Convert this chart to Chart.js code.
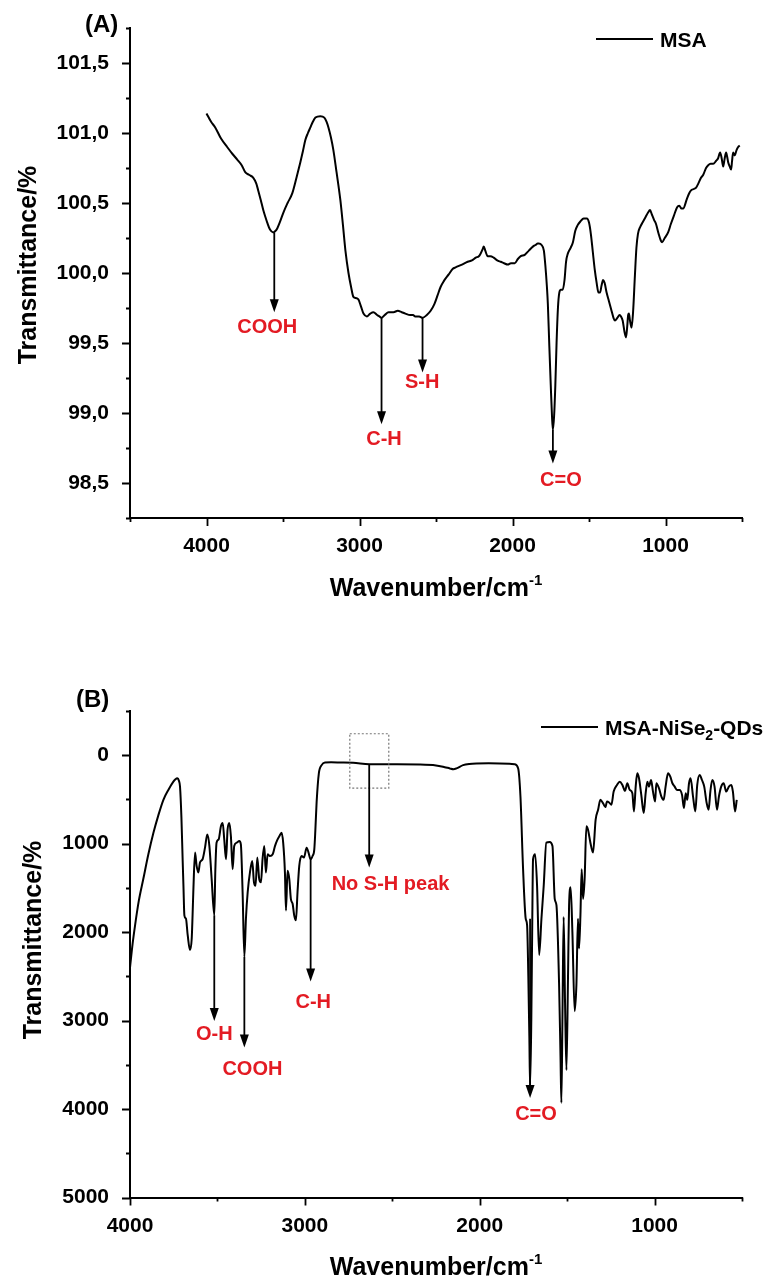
<!DOCTYPE html>
<html>
<head>
<meta charset="utf-8">
<script src="https://cdn.jsdelivr.net/npm/chart.js@4.4.0/dist/chart.umd.min.js"></script>
<style>
  body { margin: 0; background: #fff; }
  .panel { position: absolute; left: 0; width: 767px; height: 640px; }
</style>
</head>
<body>
<div class="panel" style="top:0"><canvas id="chartA" width="767" height="640"></canvas></div>
<div class="panel" style="top:640px"><canvas id="chartB" width="767" height="640"></canvas></div>
<script>
// (A) MSA spectrum
const msaWavenumber = [
  4000, 3970, 3943, 3905, 3865, 3830, 3799, 3770, 3747, 3720,
  3694, 3675, 3662, 3645, 3629, 3615, 3603, 3585, 3564, 3550,
  3537, 3518, 3498, 3470, 3439, 3412, 3387, 3370, 3354, 3337,
  3321, 3305, 3288, 3256, 3230, 3215, 3203, 3187, 3171, 3150,
  3125, 3108, 3092, 3072, 3055, 3040, 3020, 3007, 2990, 2974,
  2952, 2930, 2909, 2885, 2870, 2856, 2835, 2810, 2778, 2750,
  2724, 2700, 2669, 2650, 2636, 2610, 2588, 2560, 2535, 2510,
  2490, 2470, 2450, 2417, 2390, 2372, 2330, 2293, 2265, 2240,
  2220, 2208, 2195, 2188, 2178, 2162, 2145, 2123, 2100, 2077,
  2055, 2031, 2010, 1985, 1965, 1946, 1920, 1893, 1865, 1850,
  1835, 1828, 1810, 1795, 1785, 1775, 1769, 1760, 1750, 1742,
  1736, 1728, 1720, 1712, 1703, 1694, 1684, 1672, 1660, 1650,
  1638, 1620, 1605, 1590, 1575, 1555, 1535, 1514, 1500, 1488,
  1475, 1462, 1450, 1438, 1428, 1418, 1408, 1398, 1385, 1370,
  1355, 1340, 1330, 1315, 1300, 1291, 1280, 1268, 1258, 1250,
  1244, 1239, 1232, 1222, 1212, 1200, 1190, 1180, 1165, 1150,
  1130, 1115, 1101, 1090, 1075, 1062, 1045, 1030, 1022, 1005,
  983, 965, 945, 924, 910, 895, 885, 860, 845, 833,
  815, 800, 785, 768, 754, 735, 721, 705, 688, 670,
  656, 643, 633, 623, 613, 604, 597, 590, 580, 571,
  565, 558, 548, 535, 525, 515
];
const msaTransmittance = [
  101.14, 101.08, 101.04, 100.96, 100.90, 100.85, 100.81, 100.77, 100.72, 100.70,
  100.68, 100.64, 100.59, 100.52, 100.45, 100.40, 100.36, 100.31, 100.29, 100.30,
  100.32, 100.37, 100.43, 100.50, 100.57, 100.68, 100.79, 100.87, 100.95, 101.00,
  101.04, 101.08, 101.11, 101.12, 101.11, 101.08, 101.04, 100.97, 100.88, 100.72,
  100.52, 100.34, 100.16, 100.00, 99.90, 99.83, 99.82, 99.81, 99.76, 99.71,
  99.69, 99.71, 99.72, 99.70, 99.69, 99.68, 99.70, 99.72, 99.72, 99.73,
  99.72, 99.71, 99.70, 99.70, 99.69, 99.69, 99.68, 99.70, 99.73, 99.78,
  99.84, 99.90, 99.94, 99.99, 100.03, 100.04, 100.06, 100.08, 100.09, 100.11,
  100.12, 100.14, 100.17, 100.19, 100.16, 100.12, 100.12, 100.11, 100.09, 100.08,
  100.07, 100.06, 100.07, 100.07, 100.10, 100.12, 100.13, 100.16, 100.19, 100.20,
  100.21, 100.21, 100.20, 100.16, 100.05, 99.90, 99.78, 99.50, 99.20, 98.98,
  98.88, 98.98, 99.20, 99.50, 99.75, 99.86, 99.88, 99.88, 99.95, 100.08,
  100.14, 100.18, 100.22, 100.30, 100.34, 100.37, 100.39, 100.39, 100.36, 100.28,
  100.15, 100.02, 99.93, 99.86, 99.86, 99.91, 99.95, 99.93, 99.86, 99.80,
  99.74, 99.68, 99.66, 99.68, 99.70, 99.69, 99.66, 99.58, 99.54, 99.62,
  99.70, 99.71, 99.66, 99.61, 99.72, 99.98, 100.18, 100.28, 100.33, 100.36,
  100.40, 100.43, 100.45, 100.42, 100.38, 100.35, 100.28, 100.23, 100.22, 100.25,
  100.29, 100.35, 100.41, 100.47, 100.48, 100.46, 100.46, 100.53, 100.57, 100.59,
  100.60, 100.61, 100.64, 100.68, 100.70, 100.75, 100.77, 100.78, 100.78, 100.80,
  100.82, 100.86, 100.82, 100.76, 100.82, 100.86, 100.83, 100.79, 100.76, 100.74,
  100.80, 100.86, 100.84, 100.88, 100.90, 100.91
];

// (B) MSA-NiSe2-QDs spectrum
const qdWavenumber = [
  4000, 3985, 3971, 3950, 3924, 3895, 3866, 3838, 3809, 3780,
  3752, 3740, 3729, 3720, 3714, 3706, 3699, 3694, 3689, 3680,
  3670, 3657, 3647, 3642, 3638, 3628, 3619, 3609, 3600, 3585,
  3571, 3558, 3546, 3533, 3518, 3512, 3505, 3493, 3480, 3470,
  3461, 3451, 3442, 3432, 3423, 3413, 3404, 3390, 3375, 3366,
  3356, 3346, 3337, 3327, 3314, 3301, 3291, 3282, 3272, 3261,
  3251, 3242, 3232, 3223, 3213, 3200, 3184, 3171, 3158, 3146,
  3133, 3124, 3114, 3108, 3099, 3089, 3080, 3070, 3061, 3051,
  3042, 3032, 3019, 3005, 2990, 2979, 2967, 2956, 2946, 2940,
  2933, 2920, 2904, 2885, 2850, 2800, 2724, 2632, 2500, 2343,
  2250, 2200, 2171, 2150, 2133, 2095, 2060, 2019, 1950, 1885,
  1830, 1800, 1780, 1767, 1752, 1737, 1729, 1722, 1716, 1712,
  1705, 1700, 1695, 1683, 1672, 1660, 1647, 1634, 1619, 1600,
  1584, 1571, 1561, 1546, 1538, 1533, 1527, 1520, 1512, 1504,
  1495, 1489, 1480, 1470, 1457, 1447, 1438, 1432, 1424, 1417,
  1409, 1400, 1390, 1381, 1367, 1352, 1337, 1323, 1310, 1295,
  1281, 1272, 1260, 1247, 1234, 1215, 1199, 1184, 1169, 1156,
  1142, 1127, 1118, 1108, 1099, 1089, 1076, 1062, 1051, 1041,
  1032, 1020, 1009, 997, 990, 975, 961, 948, 937, 923,
  910, 898, 885, 872, 857, 843, 832, 822, 813, 803,
  794, 780, 767, 756, 742, 729, 716, 702, 691, 681,
  670, 657, 643, 632, 619, 605, 590, 575, 561, 552,
  540, 530
];
const qdTransmittance = [
  2400, 2130, 1923, 1650, 1400, 1120, 877, 680, 504, 390,
  299, 272, 261, 290, 355, 700, 1176, 1500, 1810, 1848,
  2035, 2202, 2072, 1800, 1549, 1101, 1251, 1325, 1213, 1176,
  1045, 896, 1027, 1400, 1810, 1300, 989, 952, 803, 765,
  952, 1176, 840, 765, 915, 1288, 1027, 989, 971, 1008,
  1549, 2277, 1848, 1549, 1325, 1195, 1437, 1475, 1157, 1400,
  1437, 1176, 1027, 1325, 1120, 1139, 1120, 1027, 960, 915,
  877, 989, 1325, 1754, 1307, 1400, 1624, 1680, 1810, 1867,
  1549, 1251, 1139, 1157, 1045, 1101, 1176, 1139, 1064, 850,
  541, 205, 112, 82, 80, 82, 86, 101, 103, 105,
  115, 135, 149, 158, 149, 112, 98, 93, 92, 93,
  95, 101, 149, 467, 1288, 1848, 1922, 2500, 3200, 3750,
  3000, 2000, 1176, 1120, 1475, 2258, 1848, 1475, 989, 982,
  1027, 1624, 1698, 2594, 3400, 3930, 3000, 1829, 2800, 3560,
  2500, 1698, 1493, 1997, 2893, 2594, 1848, 2184, 1810, 1288,
  1624, 1400, 803, 840, 989, 1101, 728, 616, 504, 541,
  586, 523, 534, 560, 411, 336, 299, 336, 403, 317,
  392, 429, 635, 355, 205, 261, 448, 653, 429, 299,
  355, 280, 411, 523, 317, 373, 467, 504, 355, 205,
  243, 317, 355, 392, 392, 448, 597, 429, 504, 317,
  261, 467, 635, 336, 224, 280, 355, 541, 616, 411,
  280, 355, 616, 467, 355, 317, 411, 355, 336, 411,
  635, 504
];

// axis tick labels
const msaTickX = [4000, 3000, 2000, 1000];
const msaTickY = [98.5, 99.0, 99.5, 100.0, 100.5, 101.0, 101.5];
const qdTickX = [4000, 3000, 2000, 1000];
const qdTickY = [0, 1000, 2000, 3000, 4000, 5000];

// peak markers: wavenumber, arrow from / to (y units), label and its centre
const msaArrows = [
  { x: 3557, from: 100.29, to: 99.72, label: 'COOH', lx: 3603, ly: 99.61 },
  { x: 2856, from: 99.68, to: 98.92, label: 'C-H', lx: 2840, ly: 98.81 },
  { x: 2588, from: 99.68, to: 99.29, label: 'S-H', lx: 2590, ly: 99.22 },
  { x: 1736, from: 98.88, to: 98.64, label: 'C=O', lx: 1684, ly: 98.52 }
];
const qdArrows = [
  { x: 3518, from: 1810, to: 3005, label: 'O-H', lx: 3518, ly: 3160 },
  { x: 3346, from: 2277, to: 3304, label: 'COOH', lx: 3300, ly: 3555 },
  { x: 2967, from: 1176, to: 2557, label: 'C-H', lx: 2952, ly: 2800 },
  { x: 2632, from: 101, to: 1269, label: 'No S-H peak', lx: 2510, ly: 1456 },
  { x: 1712, from: 1850, to: 3876, label: 'C=O', lx: 1678, ly: 4060 }
];
const qdBox = { x1: 2743, x2: 2520, y1: -243, y2: 373 };

const FONT = '"Liberation Sans", Arial, Helvetica, sans-serif';
const RED = '#e31b23';

function font(size) {
    return 'bold ' + size + 'px ' + FONT;
}

// draw text made of parts (for super/subscripts), x is centre or left
function drawRich(ctx, parts, x, y, align) {
    let total = 0;
    parts.forEach(p => {
        ctx.font = font(p.size);
        p.w = ctx.measureText(p.text).width;
        total += p.w;
    });
    let cx = align === 'center' ? x - total / 2 : x;
    ctx.textAlign = 'left';
    ctx.textBaseline = 'alphabetic';
    parts.forEach(p => {
        ctx.font = font(p.size);
        ctx.fillText(p.text, cx, y + (p.dy || 0));
        cx += p.w;
    });
}

function drawArrow(ctx, x, y1, y2) {
    ctx.beginPath();
    ctx.moveTo(x, y1);
    ctx.lineTo(x, y2 - 10);
    ctx.stroke();
    ctx.beginPath();
    ctx.moveTo(x - 4.5, y2 - 13);
    ctx.lineTo(x + 4.5, y2 - 13);
    ctx.lineTo(x, y2);
    ctx.closePath();
    ctx.fill();
}

// outward tick marks: long at labelled values, short between
function drawTicks(ctx, scale, labelled, horizontal, edge) {
    ctx.beginPath();
    scale.ticks.forEach(t => {
        const major = labelled.some(v => Math.abs(v - t.value) < 1e-6);
        const len = major ? 8 : 4;
        const p = Math.round(scale.getPixelForValue(t.value)) + 0.5;
        if (horizontal) {
            ctx.moveTo(p, edge);
            ctx.lineTo(p, edge + len);
        } else {
            ctx.moveTo(edge, p);
            ctx.lineTo(edge - len, p);
        }
    });
    ctx.stroke();
}

function makeExtras(cfg) {
    return {
        id: 'extras' + cfg.tag,
        afterDraw(chart) {
            const { ctx, scales: { x, y }, chartArea } = chart;
            ctx.save();

            ctx.strokeStyle = '#000';
            ctx.lineWidth = 1.8;
            drawTicks(ctx, x, cfg.tickX, true, chartArea.bottom);
            drawTicks(ctx, y, cfg.tickY, false, chartArea.left);

            // dotted box
            if (cfg.box) {
                const b = cfg.box;
                const px1 = x.getPixelForValue(b.x1), px2 = x.getPixelForValue(b.x2);
                const py1 = y.getPixelForValue(b.y1), py2 = y.getPixelForValue(b.y2);
                ctx.setLineDash([2, 2]);
                ctx.strokeStyle = '#777';
                ctx.lineWidth = 1.2;
                ctx.strokeRect(Math.min(px1, px2), Math.min(py1, py2), Math.abs(px2 - px1), Math.abs(py2 - py1));
                ctx.setLineDash([]);
            }

            // arrows + labels
            ctx.strokeStyle = '#000';
            ctx.fillStyle = '#000';
            ctx.lineWidth = 1.8;
            cfg.arrows.forEach(a => {
                const px = x.getPixelForValue(a.x);
                drawArrow(ctx, px, y.getPixelForValue(a.from), y.getPixelForValue(a.to));
            });
            ctx.fillStyle = RED;
            ctx.font = font(20);
            ctx.textAlign = 'center';
            ctx.textBaseline = 'middle';
            cfg.arrows.forEach(a => {
                ctx.fillText(a.label, x.getPixelForValue(a.lx), y.getPixelForValue(a.ly));
            });

            ctx.fillStyle = '#000';
            // panel letter
            ctx.font = font(24);
            ctx.textAlign = 'left';
            ctx.textBaseline = 'middle';
            ctx.fillText(cfg.letter, cfg.letterX, cfg.letterY);

            // legend
            ctx.lineWidth = 2;
            ctx.beginPath();
            ctx.moveTo(cfg.legendX, cfg.legendY);
            ctx.lineTo(cfg.legendX + 57, cfg.legendY);
            ctx.stroke();
            drawRich(ctx, cfg.legendParts, cfg.legendX + 64, cfg.legendY + 7.5, 'left');

            // x title
            const midX = (chartArea.left + chartArea.right) / 2;
            drawRich(ctx, [
                { text: 'Wavenumber/cm', size: 25 },
                { text: '-1', size: 15, dy: -11 }
            ], midX, cfg.xTitleY + 9, 'center');

            // y title
            ctx.translate(cfg.yTitleX, cfg.yTitleY);
            ctx.rotate(-Math.PI / 2);
            drawRich(ctx, [{ text: 'Transmittance/%', size: 25 }], 0, 9, 'center');

            ctx.restore();
        }
    };
}

function makeChart(id, cfg) {
    const points = cfg.xs.map((v, i) => ({ x: v, y: cfg.ys[i] }));
    const tickFont = { family: FONT, size: 21, weight: 'bold' };
    cfg.extras.tickX = cfg.tickX;
    cfg.extras.tickY = cfg.tickY;
    return new Chart(document.getElementById(id), {
        type: 'line',
        data: {
            datasets: [{
                data: points,
                borderColor: '#000',
                borderWidth: 2,
                pointRadius: 0,
                cubicInterpolationMode: 'monotone',
                fill: false
            }]
        },
        options: {
            responsive: false,
            animation: false,
            layout: { padding: { left: 0, right: 25, top: cfg.top, bottom: 0 } },
            plugins: { legend: { display: false }, tooltip: { enabled: false } },
            scales: {
                x: {
                    type: 'linear',
                    reverse: true,
                    min: cfg.xMin,
                    max: cfg.xMax,
                    border: { color: '#000', width: 2 },
                    grid: { display: false },
                    ticks: {
                        stepSize: 500,
                        autoSkip: false,
                        maxRotation: 0,
                        padding: cfg.xPad,
                        color: '#000',
                        font: tickFont,
                        callback: v => cfg.tickX.includes(v) ? String(v) : ''
                    },
                    afterFit: s => { s.height = cfg.xHeight; }
                },
                y: {
                    type: 'linear',
                    reverse: cfg.yReverse,
                    min: cfg.yMin,
                    max: cfg.yMax,
                    border: { color: '#000', width: 2 },
                    grid: { display: false },
                    ticks: {
                        stepSize: cfg.yStep,
                        autoSkip: false,
                        padding: 13,
                        color: '#000',
                        font: tickFont,
                        callback: v => cfg.tickY.some(t => Math.abs(t - v) < 1e-6) ? cfg.fmtY(v) : ''
                    },
                    afterFit: s => { s.width = 130; }
                }
            }
        },
        plugins: [makeExtras(cfg.extras)]
    });
}

makeChart('chartA', {
    xs: msaWavenumber, ys: msaTransmittance,
    xMin: 500, xMax: 4500, tickX: msaTickX,
    yMin: 98.25, yMax: 101.75, yStep: 0.25, yReverse: false, tickY: msaTickY,
    fmtY: v => v.toFixed(1).replace('.', ','),
    top: 28, xHeight: 122, xPad: 8,
    extras: {
        tag: 'A', arrows: msaArrows, box: null,
        letter: '(A)', letterX: 85, letterY: 25,
        legendX: 596, legendY: 39,
        legendParts: [{ text: 'MSA', size: 21 }],
        xTitleY: 587, yTitleX: 27, yTitleY: 265
    }
});

makeChart('chartB', {
    xs: qdWavenumber, ys: qdTransmittance,
    xMin: 500, xMax: 4000, tickX: qdTickX,
    yMin: -500, yMax: 5000, yStep: 500, yReverse: true, tickY: qdTickY,
    fmtY: v => String(v),
    top: 71, xHeight: 82.5, xPad: 8,
    extras: {
        tag: 'B', arrows: qdArrows, box: qdBox,
        letter: '(B)', letterX: 76, letterY: 60,
        legendX: 541, legendY: 87,
        legendParts: [
            { text: 'MSA-NiSe', size: 21 },
            { text: '2', size: 14, dy: 5 },
            { text: '-QDs', size: 21 }
        ],
        xTitleY: 626, yTitleX: 32, yTitleY: 300
    }
});
</script>
</body>
</html>
